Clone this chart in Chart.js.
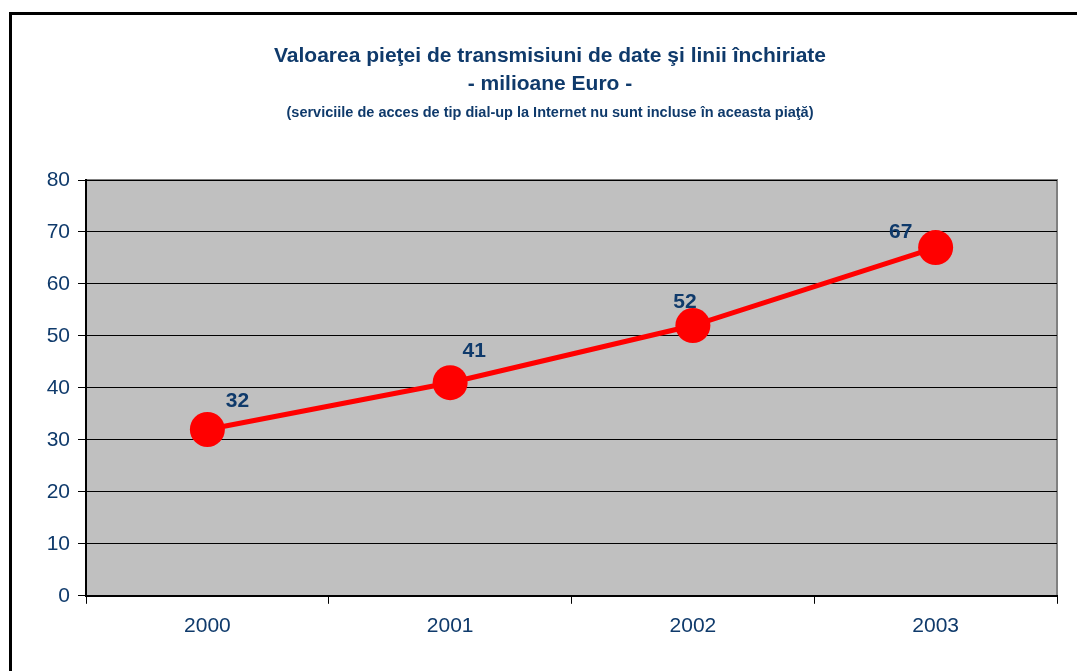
<!DOCTYPE html>
<html>
<head>
<meta charset="utf-8">
<script src="https://cdn.jsdelivr.net/npm/chart.js@4"></script>
<style>
    body { margin: 0; background: #fff; overflow: hidden; }
    #frame { position: absolute; left: 9px; top: 12px; width: 1100px; height: 700px; border: 3px solid #000; }
    #chart { position: absolute; left: 0; top: 0; }
</style>
</head>
<body>
<div id="frame"></div>
<canvas id="chart" width="1077" height="671"></canvas>
<script>
    const years = ['2000', '2001', '2002', '2003'];
    const marketValue = [32, 41, 52, 67];
    const titleLines = ['Valoarea pieţei de transmisiuni de date şi linii închiriate', '- milioane Euro -'];
    const subtitleText = '(serviciile de acces de tip dial-up la Internet nu sunt incluse în aceasta piaţă)';

    const navy = '#0f3a6b';
    const labelOffsets = [[30, -28], [24, -31], [-8, -23], [-35, -15]];

    const plotBackground = {
        id: 'plotBackground',
        beforeDraw(chart) {
            const a = chart.chartArea;
            const c = chart.ctx;
            c.save();
            c.fillStyle = '#c0c0c0';
            c.fillRect(a.left, a.top, a.right - a.left, a.bottom - a.top);
            c.strokeStyle = '#808080';
            c.lineWidth = 2;
            c.beginPath();
            c.moveTo(a.left, a.top);
            c.lineTo(a.right, a.top);
            c.lineTo(a.right, a.bottom);
            c.stroke();
            c.restore();
        }
    };

    const valueLabels = {
        id: 'valueLabels',
        afterDatasetsDraw(chart) {
            const c = chart.ctx;
            const meta = chart.getDatasetMeta(0);
            c.save();
            c.font = 'bold 21px Arial, "Liberation Sans"';
            c.fillStyle = navy;
            c.textAlign = 'center';
            c.textBaseline = 'middle';
            meta.data.forEach((pt, i) => {
                const off = labelOffsets[i];
                c.fillText(marketValue[i], pt.x + off[0], pt.y + off[1]);
            });
            c.restore();
        }
    };

    new Chart(document.getElementById('chart'), {
        type: 'line',
        data: {
            labels: years,
            datasets: [{
                data: marketValue,
                borderColor: '#ff0000',
                backgroundColor: '#ff0000',
                borderWidth: 5,
                pointRadius: 17.5,
                pointHoverRadius: 17.5,
                pointBorderWidth: 0,
                tension: 0
            }]
        },
        options: {
            responsive: false,
            animation: false,
            layout: { padding: { left: 43, right: 20, top: 0, bottom: 22 } },
            plugins: {
                legend: { display: false },
                tooltip: { enabled: false },
                title: {
                    display: true,
                    text: titleLines,
                    color: navy,
                    font: { family: 'Arial, "Liberation Sans"', size: 21, weight: 'bold', lineHeight: 1.3 },
                    padding: { top: 43, bottom: 7 }
                },
                subtitle: {
                    display: true,
                    text: subtitleText,
                    color: navy,
                    font: { family: 'Arial, "Liberation Sans"', size: 14.5, weight: 'bold', lineHeight: 1.2 },
                    padding: { top: 0, bottom: 58 }
                }
            },
            scales: {
                x: {
                    offset: true,
                    grid: {
                        offset: true,
                        drawOnChartArea: false,
                        drawTicks: true,
                        tickLength: 8,
                        color: '#000'
                    },
                    border: { color: '#000', width: 2 },
                    ticks: {
                        color: navy,
                        font: { family: 'Arial, "Liberation Sans"', size: 21 },
                        padding: 10
                    }
                },
                y: {
                    min: 0,
                    max: 80,
                    afterFit(scale) { scale.width = 43; },
                    grid: {
                        color: '#000',
                        tickLength: 8,
                        lineWidth: 1
                    },
                    border: { color: '#000', width: 2 },
                    ticks: {
                        stepSize: 10,
                        color: navy,
                        font: { family: 'Arial, "Liberation Sans"', size: 21 },
                        padding: 8
                    }
                }
            }
        },
        plugins: [plotBackground, valueLabels]
    });
</script>
</body>
</html>
